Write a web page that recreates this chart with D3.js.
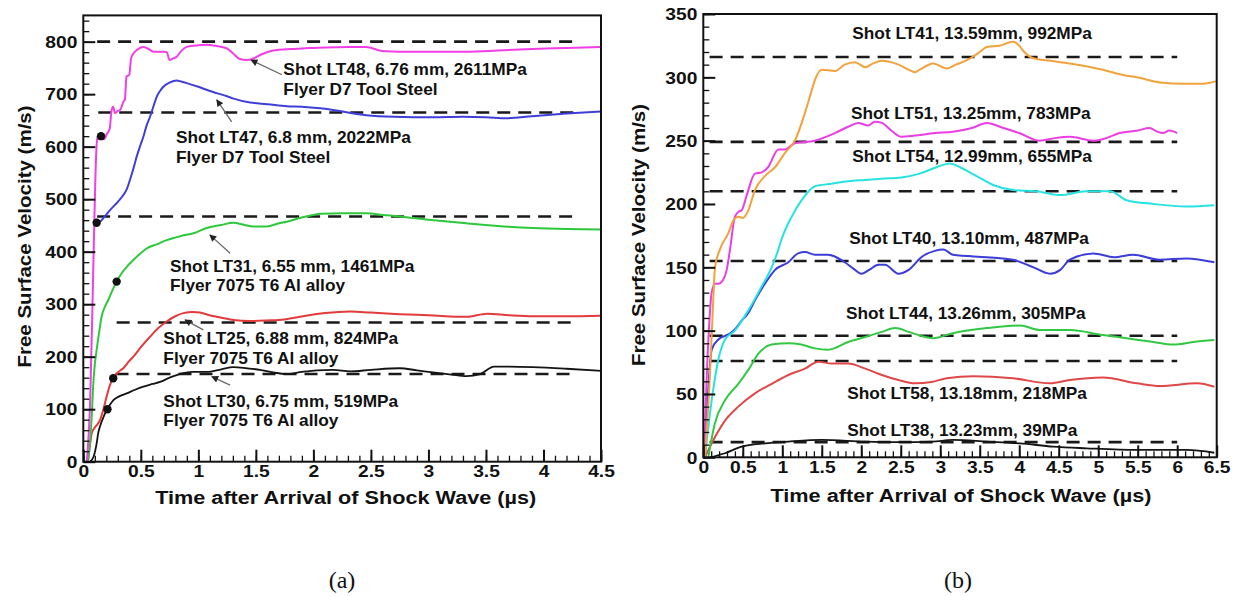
<!DOCTYPE html>
<html>
<head>
<meta charset="utf-8">
<script src="https://cdn.jsdelivr.net/npm/d3@7/dist/d3.min.js"></script>
<style>
  html, body { margin: 0; padding: 0; background: #fff; }
  svg { display: block; }
</style>
</head>
<body>
<svg id="fig" width="1236" height="597"></svg>
<script>
// ---------- Panel (a): free surface velocity, 6.x mm flyers ----------
// each trace: [time (µs), velocity (m/s)]
const shotLT48 = [[0.03,0],[0.06,120],[0.08,300],[0.095,450],[0.105,540],[0.115,600],[0.125,619],[0.15,622],[0.18,614],[0.205,624],[0.23,635],[0.245,668],[0.26,676],[0.275,664],[0.3,668],[0.32,670],[0.35,686],[0.362,690],[0.375,733],[0.4,737],[0.415,768],[0.435,777],[0.465,784],[0.52,790],[0.56,787],[0.61,781],[0.7,781],[0.725,780],[0.75,765],[0.78,768],[0.81,771],[0.85,782],[0.9,790],[1.0,793],[1.07,794],[1.15,792],[1.25,787],[1.3,778],[1.36,767],[1.42,765],[1.48,768],[1.55,776],[1.65,783],[1.8,786],[1.9,787],[2.1,789],[2.3,790],[2.46,790],[2.6,782],[2.75,781],[3.0,781],[3.33,781],[3.6,783],[3.9,786],[4.2,788],[4.5,790]];
const shotLT47 = [[0.116,455],[0.145,457],[0.19,468],[0.232,479],[0.3,495],[0.348,508],[0.38,520],[0.406,537],[0.435,558],[0.464,581],[0.5,605],[0.522,619],[0.55,640],[0.58,657],[0.61,677],[0.638,695],[0.67,707],[0.696,714],[0.75,722],[0.812,726],[0.85,724],[0.9,721],[1.0,714],[1.1,706],[1.16,702],[1.25,696],[1.3,692],[1.45,684],[1.6,681],[1.77,677],[1.9,676],[2.06,673],[2.17,670],[2.3,665],[2.46,660],[2.7,657],[3.04,656],[3.3,657],[3.5,656],[3.68,654],[3.9,658],[4.2,663],[4.5,667]];
const shotLT31 = [[0.04,0],[0.06,40],[0.073,86],[0.087,149],[0.1,185],[0.116,213],[0.14,250],[0.159,276],[0.19,296],[0.217,308],[0.25,325],[0.29,343],[0.33,358],[0.377,371],[0.435,384],[0.493,396],[0.55,406],[0.638,414],[0.725,422],[0.85,430],[0.957,435],[1.072,445],[1.2,451],[1.304,455],[1.4,451],[1.478,448],[1.594,448],[1.7,454],[1.768,457],[1.88,464],[2.0,470],[2.06,472],[2.25,473],[2.46,473],[2.6,470],[2.75,467],[3.0,461],[3.33,454],[3.6,449],[3.91,445],[4.2,443],[4.5,442]];
const shotLT25 = [[0.04,0],[0.06,35],[0.073,54],[0.1,65],[0.145,79],[0.175,100],[0.203,124],[0.23,145],[0.26,159],[0.3,170],[0.348,178],[0.4,192],[0.435,200],[0.5,218],[0.58,238],[0.65,254],[0.725,267],[0.8,277],[0.87,283],[0.95,285],[1.014,284],[1.08,280],[1.159,276],[1.304,270],[1.45,268],[1.594,269],[1.75,271],[1.884,276],[2.1,283],[2.32,286],[2.5,284],[2.75,281],[3.0,279],[3.33,276],[3.51,282],[3.7,279],[3.91,277],[4.2,277],[4.5,278]];
const shotLT30 = [[0.058,0],[0.09,10],[0.116,35],[0.13,55],[0.145,67],[0.175,85],[0.203,98],[0.23,108],[0.26,117],[0.3,123],[0.377,130],[0.45,137],[0.522,143],[0.6,148],[0.667,152],[0.75,160],[0.812,165],[0.88,169],[0.957,171],[1.072,171],[1.2,176],[1.304,180],[1.42,178],[1.536,175],[1.65,170],[1.768,167],[1.9,171],[2.03,174],[2.17,175],[2.32,172],[2.5,175],[2.75,178],[2.9,174],[3.04,170],[3.2,166],[3.33,163],[3.45,167],[3.57,181],[3.7,181],[3.91,180],[4.2,177],[4.5,173]];
const levelsA = [800, 665, 467, 265, 167];
const markersA = [[0.154,620],[0.116,455],[0.29,343],[0.26,159],[0.21,100]];
const xTicksA = [0, 0.5, 1, 1.5, 2, 2.5, 3, 3.5, 4, 4.5];
const xLabelsA = ["0","0.5","1","1.5","2","2.5","3","3.5","4","4.5"];
const yTicksA = [0, 100, 200, 300, 400, 500, 600, 700, 800];
const yLabelsA = ["0","100","200","300","400","500","600","700","800"];
const notesA = [
  ["Shot LT48, 6.76 mm, 2611MPa", "Flyer D7 Tool Steel"],
  ["Shot LT47, 6.8 mm, 2022MPa", "Flyer D7 Tool Steel"],
  ["Shot LT31, 6.55 mm, 1461MPa", "Flyer 7075 T6 Al alloy"],
  ["Shot LT25, 6.88 mm, 824MPa", "Flyer 7075 T6 Al alloy"],
  ["Shot LT30, 6.75 mm, 519MPa", "Flyer 7075 T6 Al alloy"]
];

// ---------- Panel (b): free surface velocity, 13 mm flyers ----------
const shotLT41 = [[0.02,0],[0.08,60],[0.13,130],[0.148,150],[0.21,164],[0.317,177],[0.38,187],[0.443,190],[0.5,189],[0.57,195],[0.654,211],[0.78,222],[0.908,229],[1.03,240],[1.16,250],[1.287,272],[1.36,287],[1.414,298],[1.5,306],[1.67,305],[1.79,310],[1.92,312],[2.05,308],[2.15,311],[2.26,313],[2.47,310],[2.6,306],[2.68,304],[2.74,306],[2.91,311],[3.08,307],[3.2,310],[3.38,315],[3.5,320],[3.59,324],[3.75,325],[3.92,328],[4.0,325],[4.05,321],[4.18,315],[4.4,313],[4.64,311],[5.06,306],[5.3,302],[5.49,300],[5.78,296],[6.1,295],[6.33,295],[6.5,297]];
const shotLT51 = [[0.013,0],[0.04,58],[0.07,100],[0.106,130],[0.148,137],[0.19,137],[0.25,140],[0.296,148],[0.338,164],[0.4,190],[0.45,194],[0.486,195],[0.55,207],[0.654,224],[0.74,225],[0.82,229],[0.95,243],[1.03,243],[1.16,248],[1.41,250],[1.667,256],[1.835,261],[1.96,264],[2.09,262],[2.17,265],[2.26,264],[2.38,258],[2.51,253],[2.68,254],[2.93,256],[3.16,257],[3.4,260],[3.59,264],[3.8,260],[4.0,256],[4.26,250],[4.45,252],[4.64,253],[4.94,250],[5.1,252],[5.27,256],[5.5,258],[5.65,260],[5.75,257],[5.82,256],[5.9,258],[6.0,256]];
const shotLT54 = [[0.02,0],[0.106,45],[0.19,77],[0.275,93],[0.4,100],[0.57,116],[0.74,135],[0.866,150],[0.95,164],[0.99,172],[1.12,190],[1.245,203],[1.414,214],[1.625,216],[1.835,218],[2.05,219],[2.26,220],[2.51,221],[2.74,224],[2.95,229],[3.12,232],[3.25,229],[3.46,222],[3.67,215],[3.92,211],[4.22,210],[4.52,207],[4.85,210],[5.15,210],[5.36,203],[5.7,200],[6.12,198],[6.47,199]];
const shotLT40 = [[0.02,0],[0.06,50],[0.106,85],[0.19,93],[0.317,97],[0.4,101],[0.486,108],[0.57,114],[0.654,124],[0.78,137],[0.908,148],[1.076,154],[1.2,161],[1.287,162],[1.414,160],[1.58,160],[1.79,154],[1.9,149],[2.0,145],[2.1,148],[2.215,152],[2.3,152],[2.47,145],[2.6,148],[2.76,158],[2.93,163],[3.04,164],[3.16,160],[3.59,158],[3.92,156],[4.18,150],[4.39,145],[4.52,148],[4.64,156],[4.94,161],[5.2,158],[5.44,160],[5.78,156],[6.12,157],[6.47,154]];
const shotLT44 = [[0.063,0],[0.148,27],[0.275,45],[0.443,58],[0.57,69],[0.7,82],[0.866,89],[1.076,90],[1.24,89],[1.414,86],[1.58,85],[1.835,91],[2.05,95],[2.26,99],[2.43,102],[2.6,99],[2.81,95],[2.91,94],[3.16,98],[3.59,102],[4.01,104],[4.26,100.5],[4.64,100.5],[5.06,96.5],[5.36,94],[5.7,91],[5.95,89],[6.2,91],[6.47,92.6]];
const shotLT58 = [[0.02,0],[0.148,16],[0.275,29],[0.443,40],[0.654,50.5],[0.866,58],[1.076,65],[1.287,70],[1.456,75.5],[1.625,74],[1.835,74],[2.05,70],[2.26,65],[2.47,61],[2.68,58.4],[2.89,59.5],[3.08,62.4],[3.42,64],[3.92,62.4],[4.39,58.4],[4.64,61],[5.06,63],[5.49,58.4],[5.78,56.3],[6.25,58.4],[6.47,55.7]];
const shotLT38 = [[0.085,0],[0.275,3.2],[0.486,8.4],[0.78,11],[1.076,12.4],[1.5,13.7],[2.05,12.4],[2.47,12],[2.9,12.4],[3.16,13.7],[3.59,12.4],[4.01,11],[4.43,8.4],[4.85,7.1],[5.49,5.8],[6.12,5.8],[6.47,3.6]];
const levelsB = [316, 249, 210, 155, 96, 76, 12];
const xTicksB = [0, 0.5, 1, 1.5, 2, 2.5, 3, 3.5, 4, 4.5, 5, 5.5, 6, 6.5];
const xLabelsB = ["0","0.5","1","1.5","2","2.5","3","3.5","4","4.5","5","5.5","6","6.5"];
const yTicksB = [0, 50, 100, 150, 200, 250, 300, 350];
const yLabelsB = ["0","50","100","150","200","250","300","350"];
const notesB = [
  "Shot LT41, 13.59mm, 992MPa",
  "Shot LT51, 13.25mm, 783MPa",
  "Shot LT54, 12.99mm, 655MPa",
  "Shot LT40, 13.10mm, 487MPa",
  "Shot LT44, 13.26mm, 305MPa",
  "Shot LT58, 13.18mm, 218MPa",
  "Shot LT38, 13.23mm, 39MPa"
];

const xTitle = "Time after Arrival of Shock Wave (\u00b5s)";
const yTitle = "Free Surface Velocity (m/s)";

// ---------- drawing ----------
const SANS = "'Liberation Sans', Arial, Helvetica, sans-serif";
const svg = d3.select("#fig");
const defs = svg.append("defs");
defs.append("marker")
  .attr("id", "arrowHead").attr("viewBox", "0 0 10 10")
  .attr("refX", 9).attr("refY", 5)
  .attr("markerWidth", 9).attr("markerHeight", 7)
  .attr("markerUnits", "userSpaceOnUse")
  .attr("orient", "auto")
  .append("path").attr("d", "M0,0 L10,5 L0,10 z").attr("fill", "#222");

// bold sans text, optionally widened horizontally
function label(g, str, x, y, opt) {
  const o = Object.assign({ size: 16, sx: 1, anchor: "start", rotate: 0, family: SANS, weight: "bold" }, opt || {});
  let tf = `translate(${x},${y})`;
  if (o.rotate) tf += ` rotate(${o.rotate})`;
  if (o.sx !== 1) tf += ` scale(${o.sx},1)`;
  return g.append("text")
    .attr("transform", tf)
    .attr("text-anchor", o.anchor)
    .attr("font-family", o.family)
    .attr("font-weight", o.weight)
    .attr("font-size", o.size)
    .attr("fill", "#111")
    .text(str);
}

function drawAxes(g, x, y, spec) {
  const [xa, xb] = x.range();
  const [ya, yb] = y.range();
  const minorX = d3.range(x.domain()[0], x.domain()[1] + 1e-9, spec.xMinor);
  const minorY = d3.range(y.domain()[0], y.domain()[1] + 1e-9, spec.yMinor);

  // minor ticks, pointing inward
  g.append("g").attr("transform", `translate(0,${ya})`)
    .call(d3.axisBottom(x).tickValues(minorX).tickSize(-6).tickFormat(""))
    .call(s => { s.select(".domain").remove(); s.selectAll("line").attr("stroke", "#111").attr("stroke-width", 1.3); });
  g.append("g").attr("transform", `translate(${xa},0)`)
    .call(d3.axisLeft(y).tickValues(minorY).tickSize(-6).tickFormat(""))
    .call(s => { s.select(".domain").remove(); s.selectAll("line").attr("stroke", "#111").attr("stroke-width", 1.3); });

  // major ticks with labels
  const TSX = 1.2;
  const gx = g.append("g").attr("transform", `translate(0,${ya})`)
    .call(d3.axisBottom(x).tickValues(spec.xTicks).tickSize(-12).tickPadding(4)
      .tickFormat(d => spec.xLabels[spec.xTicks.indexOf(d)]));
  const gy = g.append("g").attr("transform", `translate(${xa},0)`)
    .call(d3.axisLeft(y).tickValues(spec.yTicks).tickSize(-12).tickPadding(6)
      .tickFormat(d => spec.yLabels[spec.yTicks.indexOf(d)]));
  [gx, gy].forEach(a => {
    a.select(".domain").remove();
    a.attr("font-family", SANS).attr("font-size", 16).attr("font-weight", "bold");
    a.selectAll("line").attr("stroke", "#111").attr("stroke-width", 2);
    a.selectAll("text").attr("fill", "#111").attr("transform", `scale(${TSX},1)`);
  });
  gy.selectAll("text").attr("x", -6 / TSX).attr("dy", "0.36em");

  // frame
  g.append("rect")
    .attr("x", xa).attr("y", yb).attr("width", xb - xa).attr("height", ya - yb)
    .attr("fill", "none").attr("stroke", "#111").attr("stroke-width", 2);
}

function drawLevels(g, x, y, levels, t0s, t1) {
  g.selectAll(null).data(levels).join("line")
    .attr("x1", (d, i) => x(t0s[i])).attr("x2", x(t1))
    .attr("y1", d => y(d)).attr("y2", d => y(d))
    .attr("stroke", "#1a1a1a").attr("stroke-width", 2.6)
    .attr("stroke-dasharray", "13,8");
}

function drawTraces(g, x, y, traces) {
  const line = d3.line().x(d => x(d[0])).y(d => y(d[1])).curve(d3.curveMonotoneX);
  g.selectAll(null).data(traces).join("path")
    .attr("d", d => line(d.pts))
    .attr("fill", "none")
    .attr("stroke", d => d.color)
    .attr("stroke-width", d => d.w || 2)
    .attr("stroke-linejoin", "round");
}

// ===== panel (a) =====
{
  const g = svg.append("g");
  const x = d3.scaleLinear().domain([0, 4.5]).range([83.3, 601]);
  const y = d3.scaleLinear().domain([0, 850]).range([461.7, 15.4]);

  drawLevels(g, x, y, levelsA, [0.12, 0.13, 0.12, 0.29, 0.28], 4.26);
  drawTraces(g, x, y, [
    { pts: shotLT30, color: "#141414", w: 1.8 },
    { pts: shotLT25, color: "#e23b3b" },
    { pts: shotLT31, color: "#2ec83c" },
    { pts: shotLT47, color: "#3f3fd8" },
    { pts: shotLT48, color: "#f23ee6" }
  ]);
  g.selectAll(null).data(markersA).join("circle")
    .attr("cx", d => x(d[0])).attr("cy", d => y(d[1])).attr("r", 4.2).attr("fill", "#111");

  drawAxes(g, x, y, {
    xTicks: xTicksA, xLabels: xLabelsA, yTicks: yTicksA, yLabels: yLabelsA,
    xMinor: 0.1, yMinor: 20
  });

  // annotations: text anchor and arrow (tail -> head) in data units
  const place = [
    { at: [1.739, 736.6], tail: [1.727, 737], head: [1.458, 765] },
    { at: [0.806, 606.5], tail: [1.29, 647], head: [1.16, 689] },
    { at: [0.754, 362.0], tail: [1.276, 397], head: [1.10, 432] },
    { at: [0.696, 223.6], tail: [1.043, 251], head: [0.884, 270] },
    { at: [0.696, 104.8], tail: [1.276, 146], head: [1.117, 162] }
  ];
  notesA.forEach((lines, i) => {
    const p = place[i];
    g.append("line")
      .attr("x1", x(p.tail[0])).attr("y1", y(p.tail[1]))
      .attr("x2", x(p.head[0])).attr("y2", y(p.head[1]))
      .attr("stroke", "#6a6a6a").attr("stroke-width", 1.3)
      .attr("marker-end", "url(#arrowHead)");
    lines.forEach((s, k) => label(g, s, x(p.at[0]), y(p.at[1]) + k * 19.6, { size: 16, sx: 1.08 }));
  });

  label(g, xTitle, 345.7, 504, { size: 19, sx: 1.14, anchor: "middle" });
  label(g, yTitle, 30.5, 236.5, { size: 19, sx: 1.08, anchor: "middle", rotate: -90 });
  label(g, "(a)", 342, 588, { size: 24, family: "'Liberation Serif', 'Times New Roman', serif", weight: "normal", anchor: "middle" });
}

// ===== panel (b) =====
{
  const g = svg.append("g");
  const x = d3.scaleLinear().domain([0, 6.5]).range([703.3, 1216.7]);
  const y = d3.scaleLinear().domain([0, 350]).range([457.3, 14]);

  drawLevels(g, x, y, levelsB, levelsB.map(() => 0.08), 6.0);
  drawTraces(g, x, y, [
    { pts: shotLT38, color: "#141414", w: 1.8 },
    { pts: shotLT58, color: "#e04848" },
    { pts: shotLT44, color: "#33c844" },
    { pts: shotLT40, color: "#3c3cd8" },
    { pts: shotLT54, color: "#26e2e2" },
    { pts: shotLT51, color: "#ea3ee4" },
    { pts: shotLT41, color: "#f2a23c" }
  ]);

  drawAxes(g, x, y, {
    xTicks: xTicksB, xLabels: xLabelsB, yTicks: yTicksB, yLabels: yLabelsB,
    xMinor: 0.1, yMinor: 10
  });

  const at = [[1.886, 330.2], [1.87, 267], [1.886, 232.8], [1.848, 168.4], [1.806, 109.2], [1.823, 46], [1.823, 17]];
  notesB.forEach((s, i) => label(g, s, x(at[i][0]), y(at[i][1]), { size: 16, sx: 1.08 }));

  label(g, xTitle, 961, 502, { size: 19, sx: 1.14, anchor: "middle" });
  label(g, yTitle, 645, 235, { size: 19, sx: 1.08, anchor: "middle", rotate: -90 });
  label(g, "(b)", 958, 588, { size: 24, family: "'Liberation Serif', 'Times New Roman', serif", weight: "normal", anchor: "middle" });
}
</script>
</body>
</html>
